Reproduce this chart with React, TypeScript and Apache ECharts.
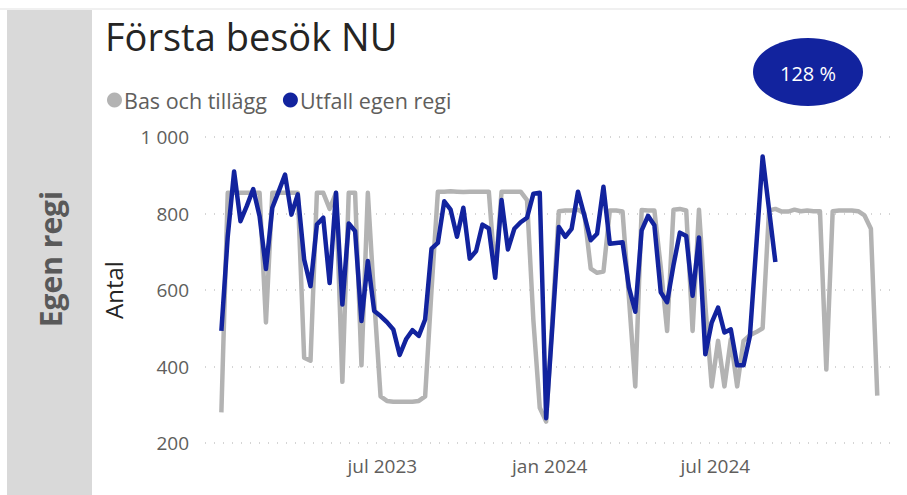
import React, { useEffect, useRef } from "react";
import * as echarts from "echarts";

const TITLE = "Första besök NU";
const SIDE_LABEL = "Egen regi";
const BADGE_TEXT = "128 %";
const SERIES_NAMES = ["Bas och tillägg", "Utfall egen regi"];
const Y_NAME = "Antal";
const FIRST_WEEK = [2023, 0, 5];

const basValues = [
  280, 854, 854, 854, 854, 854, 854, 515, 854, 854,
  854, 854, 854, 423, 415, 854, 854, 812, 854, 360,
  854, 854, 403, 854, 575, 322, 310, 308, 308, 308,
  308, 310, 322, 600, 857, 857, 858, 857, 856, 857,
  857, 857, 857, 640, 857, 857, 857, 857, 835, 520,
  292, 256, 530, 806, 808, 808, 810, 800, 656, 645,
  648, 808, 808, 805, 580, 348, 809, 808, 808, 660,
  493, 810, 812, 808, 493, 810, 560, 348, 467, 348,
  471, 348, 467, 482, 490, 500, 808, 812, 805, 805,
  810, 806, 808, 806, 806, 392, 806, 808, 808, 808,
  806, 795, 760, 324,
];

const utfallValues = [
  493, 740, 910, 780, 820, 864, 793, 655, 815, 858,
  902, 797, 850, 680, 610, 771, 789, 618, 854, 562,
  774, 754, 519, 676, 545, 532, 516, 497, 430, 471,
  495, 480, 523, 708, 723, 832, 810, 739, 815, 682,
  702, 771, 761, 632, 835, 706, 760, 777, 789, 852,
  854, 265, 510, 765, 739, 760, 857, 795, 730, 747,
  870, 721, 723, 725, 607, 543, 756, 794, 769, 594,
  568, 665, 750, 741, 585, 737, 432, 515, 554, 489,
  497, 403, 403, 480, 715, 949, 811, 673,
];

const MONTH_LABELS: Record<number, string> = { 0: "jan", 6: "jul" };

const FONT = '"Segoe UI", "Open Sans", "Noto Sans", sans-serif';

function weekDate(i: number): number {
  const d = new Date(FIRST_WEEK[0], FIRST_WEEK[1], FIRST_WEEK[2] + i * 7);
  return d.getTime();
}

export default function App() {
  const ref = useRef<HTMLDivElement>(null);

  useEffect(() => {
    if (!ref.current) return;
    const chart = echarts.init(ref.current, undefined, { renderer: "svg" });

    const basData = basValues.map((v, i) => [weekDate(i), v]);
    const utfallData = utfallValues.map((v, i) => [weekDate(i), v]);
    const firstT = weekDate(0);
    const lastT = weekDate(basValues.length - 1);

    chart.setOption({
      animation: false,
      backgroundColor: "#ffffff",
      title: {
        text: TITLE,
        left: 100,
        top: 12,
        textStyle: {
          fontFamily: FONT,
          fontSize: 38,
          fontWeight: "normal",
          color: "#252423",
        },
      },
      legend: {
        left: 102,
        top: 84,
        icon: "circle",
        itemWidth: 15,
        itemHeight: 15,
        itemGap: 16,
        textStyle: { fontFamily: FONT, fontSize: 21.5, color: "#605E5C", padding: [0, 0, 0, -3] },
        data: SERIES_NAMES,
      },
      grid: { left: 205, right: 17, top: 137, bottom: 52, containLabel: false, outerBoundsMode: "none" },
      xAxis: {
        type: "time",
        min: new Date(2022, 11, 18).getTime(),
        max: new Date(2025, 0, 9).getTime(),
        splitNumber: 5,
        axisLine: { show: false },
        axisTick: { show: false },
        splitLine: { show: false },
        axisLabel: {
          fontFamily: FONT,
          fontSize: 19,
          color: "#605E5C",
          margin: 13,
          hideOverlap: false,
          formatter: (val: number) => {
            const d = new Date(val);
            const m = d.getMonth();
            if (val > firstT && val < lastT && d.getDate() === 1 && MONTH_LABELS[m] !== undefined) {
              return MONTH_LABELS[m] + " " + d.getFullYear();
            }
            return "";
          },
        },
      },
      yAxis: {
        type: "value",
        min: 200,
        max: 1000,
        interval: 200,
        name: Y_NAME,
        nameLocation: "middle",
        nameRotate: 90,
        nameGap: 80,
        nameTextStyle: { fontFamily: FONT, fontSize: 24, color: "#252423" },
        axisLine: { show: false },
        axisTick: { show: false },
        axisLabel: {
          fontFamily: FONT,
          fontSize: 19,
          color: "#605E5C",
          margin: 16,
          formatter: (v: number) => (v >= 1000 ? Math.floor(v / 1000) + " " + String(v % 1000).padStart(3, "0") : String(v)),
        },
        splitLine: {
          show: true,
          lineStyle: { type: [1, 8], color: "#c8c8c8", width: 1.5 },
        },
      },
      series: [
        {
          name: SERIES_NAMES[0],
          type: "line",
          data: basData,
          showSymbol: false,
          symbol: "circle",
          color: "#B3B3B3",
          lineStyle: { width: 4.5, color: "#B3B3B3", join: "round" },
          z: 2,
        },
        {
          name: SERIES_NAMES[1],
          type: "line",
          data: utfallData,
          showSymbol: false,
          symbol: "circle",
          color: "#12239E",
          lineStyle: { width: 4.5, color: "#12239E", join: "round" },
          z: 3,
        },
      ],
      graphic: [
        {
          type: "line",
          shape: { x1: 0, y1: 9, x2: 907, y2: 9 },
          style: { stroke: "#e1e1e1", lineWidth: 1 },
          silent: true,
        },
        {
          type: "rect",
          shape: { x: 7, y: 10, width: 85, height: 485 },
          style: { fill: "#D9D9D9" },
          silent: true,
        },
        {
          type: "text",
          x: 50,
          y: 259,
          rotation: Math.PI / 2,
          style: {
            text: SIDE_LABEL,
            fill: "#595959",
            font: 'bold 30px ' + FONT,
            align: "center",
            verticalAlign: "middle",
          },
          silent: true,
        },
        {
          type: "ellipse",
          shape: { cx: 808, cy: 72, rx: 55, ry: 34 },
          style: { fill: "#12239E" },
          silent: true,
        },
        {
          type: "text",
          x: 808,
          y: 73,
          style: {
            text: BADGE_TEXT,
            fill: "#ffffff",
            font: '20px ' + FONT,
            align: "center",
            verticalAlign: "middle",
          },
          silent: true,
        },
      ],
    });

    return () => chart.dispose();
  }, []);

  return (
    <div
      ref={ref}
      style={{ position: "fixed", left: 0, top: 0, width: 907, height: 495, background: "#fff" }}
    />
  );
}
